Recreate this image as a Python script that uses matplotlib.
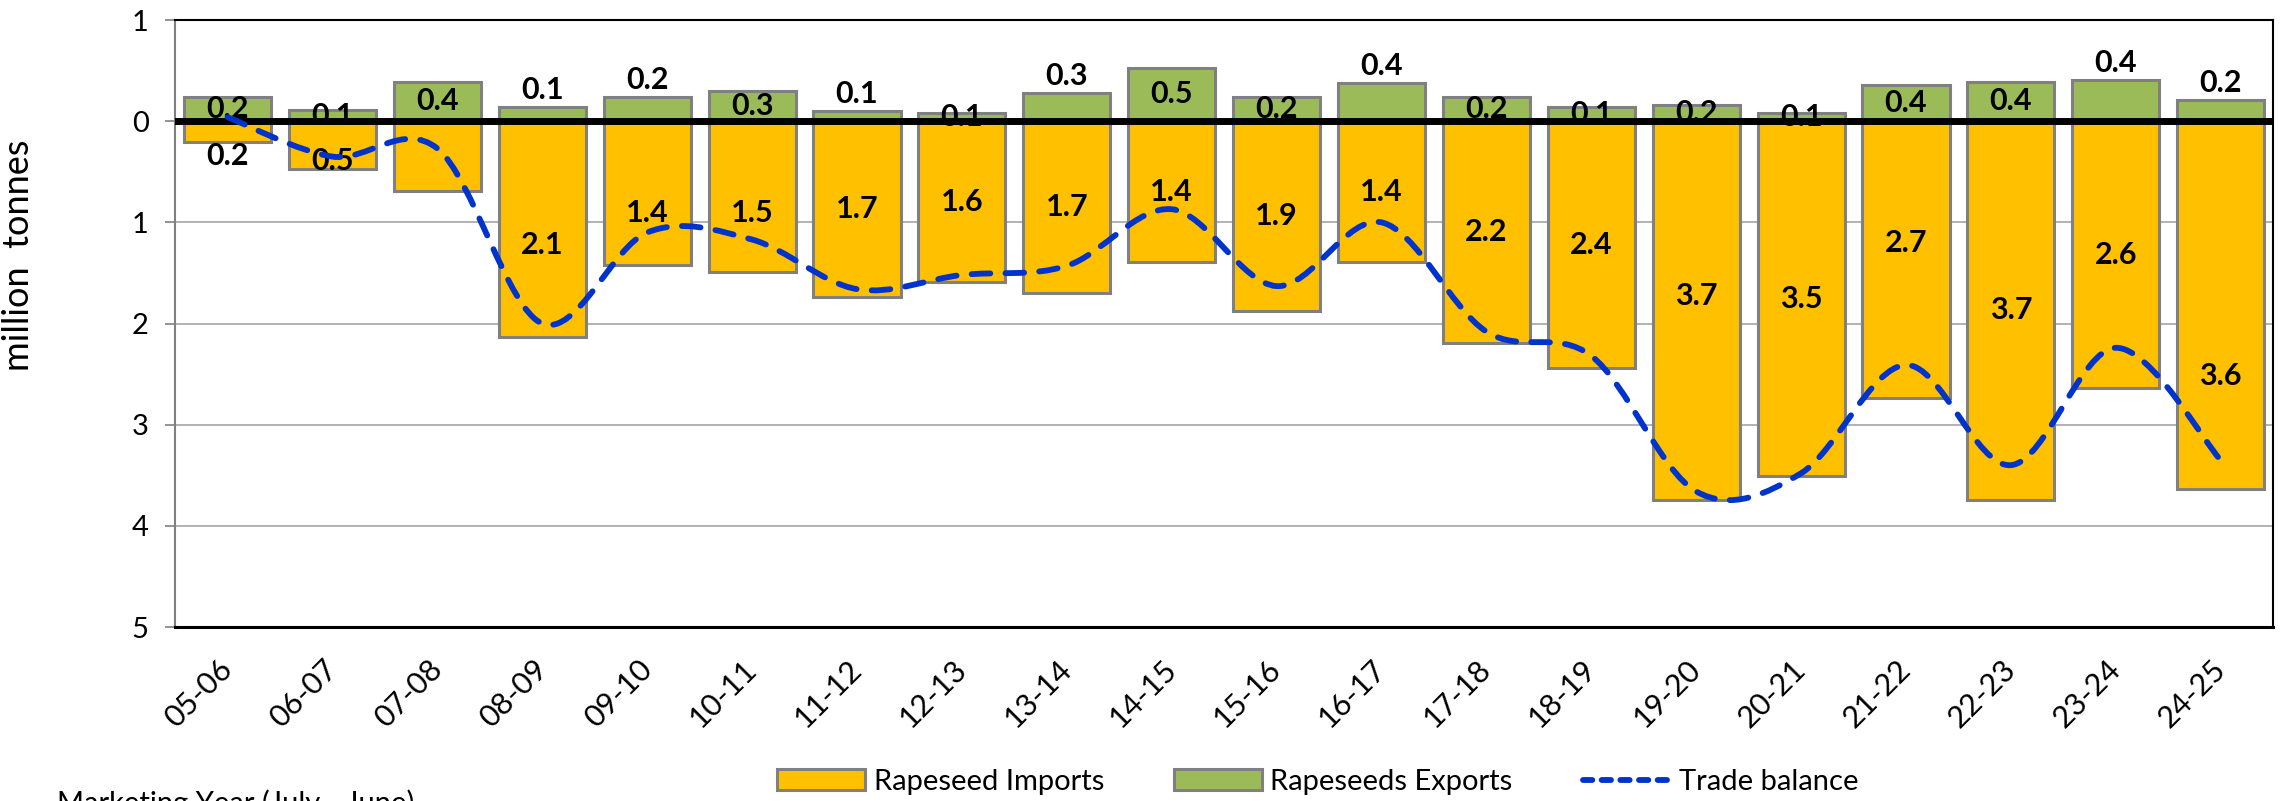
import numpy as np
import matplotlib.pyplot as plt
import matplotlib
from matplotlib.path import Path
from matplotlib.patches import PathPatch, Patch
from matplotlib.lines import Line2D

matplotlib.rcParams.update({'font.family': ['Lato', 'DejaVu Sans']})

years = ['05-06', '06-07', '07-08', '08-09', '09-10', '10-11', '11-12', '12-13', '13-14', '14-15',
         '15-16', '16-17', '17-18', '18-19', '19-20', '20-21', '21-22', '22-23', '23-24', '24-25']
imports = [0.21, 0.47, 0.69, 2.13, 1.42, 1.49, 1.74, 1.59, 1.70, 1.39,
           1.88, 1.39, 2.19, 2.44, 3.74, 3.51, 2.74, 3.74, 2.64, 3.64]
exports = [0.24, 0.11, 0.39, 0.14, 0.24, 0.30, 0.10, 0.08, 0.28, 0.53,
           0.24, 0.38, 0.24, 0.14, 0.16, 0.08, 0.36, 0.39, 0.41, 0.21]
balance = [0.04, -0.35, -0.27, -2.00, -1.10, -1.17, -1.66, -1.52, -1.43, -0.87,
           -1.63, -1.00, -2.08, -2.32, -3.66, -3.48, -2.41, -3.40, -2.24, -3.35]
show_imp_label = [True, True, False] + [True] * 17
# label placement tweaks (Excel labels were dragged around by hand)
imp_lbl_shift = [0.24, 0.16, 0, 0.16, 0.2, 0.16, 0, 0, 0, 0,
                 0, 0, 0, 0, -0.14, 0, -0.17, 0, 0, 0.7]
exp_lbl_above = [0, 0, 0, 1, 1, 0, 1, 0, 1, 0, 0, 1, 0, 0, 0, 0, 0, 0, 1, 1]

c_imp = '#FFC000'
c_exp = '#9BBB59'
c_edge = '#808080'
c_line = '#0033CC'

fig = plt.figure(figsize=(22.8, 8.01), dpi=100)
ax = fig.add_axes([0.0768, 0.2172, 0.9202, 0.7578])

x = np.arange(len(years))
ax.bar(x, [-v for v in imports], width=0.83, color=c_imp, edgecolor=c_edge, linewidth=2.2, zorder=2)
ax.bar(x, exports, width=0.83, color=c_exp, edgecolor=c_edge, linewidth=2.2, zorder=2)

# data labels
for i in range(len(years)):
    if show_imp_label[i]:
        ax.text(x[i], -imports[i] / 2 - imp_lbl_shift[i], f'{imports[i]:.1f}', ha='center', va='center',
                fontsize=22, fontweight='bold', zorder=4)
    if exp_lbl_above[i]:
        ax.annotate(f'{exports[i]:.1f}', (x[i], exports[i]), xytext=(0, 2), textcoords='offset points',
                    ha='center', va='bottom', fontsize=22, fontweight='bold', zorder=4)
    else:
        ax.text(x[i], exports[i] / 2, f'{exports[i]:.1f}', ha='center', va='center',
                fontsize=22, fontweight='bold', zorder=4)

ax.axhline(0, color='black', lw=5, zorder=5)

# smoothed trade balance line (cubic bezier through the points, like Excel's smooth line)
pts = np.column_stack([x, balance]).astype(float)
n = len(pts)
verts = [pts[0]]
codes = [Path.MOVETO]
for i in range(n - 1):
    p0 = pts[i - 1] if i > 0 else pts[i]
    p1 = pts[i]
    p2 = pts[i + 1]
    p3 = pts[i + 2] if i + 2 < n else pts[i + 1]
    verts += [p1 + (p2 - p0) / 6, p2 - (p3 - p1) / 6, p2]
    codes += [Path.CURVE4] * 3
line = PathPatch(Path(verts, codes), fill=False, edgecolor=c_line, lw=4.2,
                 linestyle=(0, (3.2, 2.6)), capstyle='round', zorder=6)
ax.add_patch(line)

ax.set_xlim(-0.5, len(years) - 0.5)
ax.set_ylim(-5, 1)
ax.set_yticks(range(-5, 2))
ax.set_yticklabels([str(abs(v)) for v in range(-5, 2)], fontsize=21)
ax.set_xticks(x)
ax.set_xticklabels(years, rotation=45, ha='right', va='center', rotation_mode='anchor', fontsize=22)
ax.tick_params(axis='x', length=0, pad=27)
ax.tick_params(axis='y', length=7, width=1.2, color=c_edge, pad=12)

ax.set_axisbelow(True)
ax.yaxis.grid(True, color='#A6A6A6', lw=1.2)
ax.spines['left'].set_color(c_edge)
ax.spines['left'].set_linewidth(1.5)
for s in ['top', 'right']:
    ax.spines[s].set_color('black')
    ax.spines[s].set_linewidth(1.5)
ax.spines['bottom'].set_linewidth(2.2)

ax.set_ylabel('million  tonnes', fontsize=26)
ax.yaxis.set_label_coords(-0.067, 0.613)

handles = [Patch(facecolor=c_imp, edgecolor=c_edge, lw=2.2),
           Patch(facecolor=c_exp, edgecolor=c_edge, lw=2.2),
           Line2D([], [], color=c_line, lw=4.2, ls=(0, (1.6, 1.6)), dash_capstyle='round')]
fig.legend(handles, ['Rapeseed Imports', 'Rapeseeds Exports', 'Trade balance'], loc='center',
           bbox_to_anchor=(0.578, 0.024), ncol=3, frameon=False, fontsize=21,
           handlelength=3.0, handleheight=0.7, handletextpad=0.3, columnspacing=2.4)

fig.text(57 / 2280, 1 - 789 / 801, 'Marketing Year (July - June)', fontsize=21, va='top', ha='left')

plt.savefig('out.png', dpi=100)
